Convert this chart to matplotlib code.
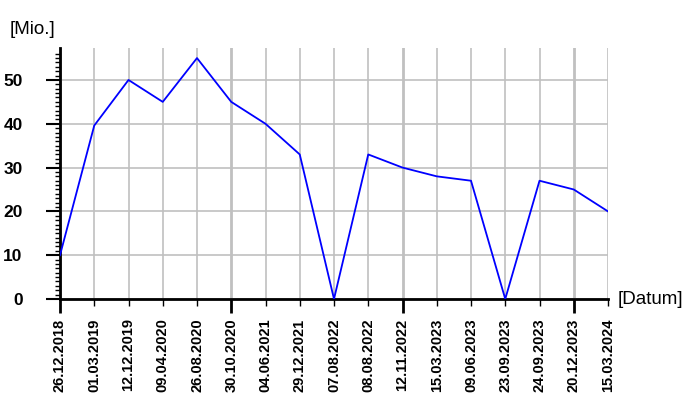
import numpy as np
import matplotlib
matplotlib.use('Agg')
import matplotlib.pyplot as plt

# Daten
dates = ['26.12.2018', '01.03.2019', '12.12.2019', '09.04.2020', '26.08.2020',
         '30.10.2020', '04.06.2021', '29.12.2021', '07.08.2022', '08.08.2022',
         '12.11.2022', '15.03.2023', '09.06.2023', '23.09.2023', '24.09.2023',
         '20.12.2023', '15.03.2024']
values = [10, 39.6, 50, 45, 55, 45, 40, 33, 0, 33, 30, 28, 27, 0, 27, 25, 20]

plt.rcParams['font.family'] = ['Liberation Sans', 'DejaVu Sans']

fig = plt.figure(figsize=(7, 4), dpi=100)
ax = fig.add_axes([60/700, 101/400, 548/700, 251/400])

x = np.arange(len(dates))
ax.plot(x, values, color='#0000ff', lw=1.3, zorder=3)

ax.set_xlim(0, len(dates)-1)
ax.set_ylim(0, 57.3)

ax.set_xticks(x)
ax.set_xticklabels(dates, rotation=90, fontsize=10.5, fontweight='bold')
ax.set_yticks(np.arange(0, 51, 10))
ax.set_yticklabels([str(v) for v in range(0, 51, 10)], fontsize=12.5, fontweight='bold')
ax.set_yticks(np.arange(0, 57, 1), minor=True)

ax.grid(True, color='#c0c0c0', lw=1.2)
ax.set_axisbelow(True)

ax.tick_params(axis='x', length=5, width=1, color='black', pad=9)
ax.tick_params(axis='y', which='major', length=10, width=1.5, pad=17)
ax.tick_params(axis='y', which='minor', length=3.5, width=1)

# jede fuenfte Markierung staerker
for i, t in enumerate(ax.xaxis.get_major_ticks()):
    if i % 5 == 0:
        t.tick1line.set_markersize(10)
        t.tick1line.set_markeredgewidth(2)
        t.gridline.set_linewidth(2)

for s in ['top', 'right']:
    ax.spines[s].set_visible(False)
ax.spines['left'].set_linewidth(2)
ax.spines['bottom'].set_linewidth(2)

fig.text(10/700, 1 - 30/400, '[Mio.]', fontsize=13.5, va='center', ha='left')
fig.text(618/700, 1 - 300/400, '[Datum]', fontsize=13.5, va='center', ha='left')

fig.savefig('out.png', dpi=100)
